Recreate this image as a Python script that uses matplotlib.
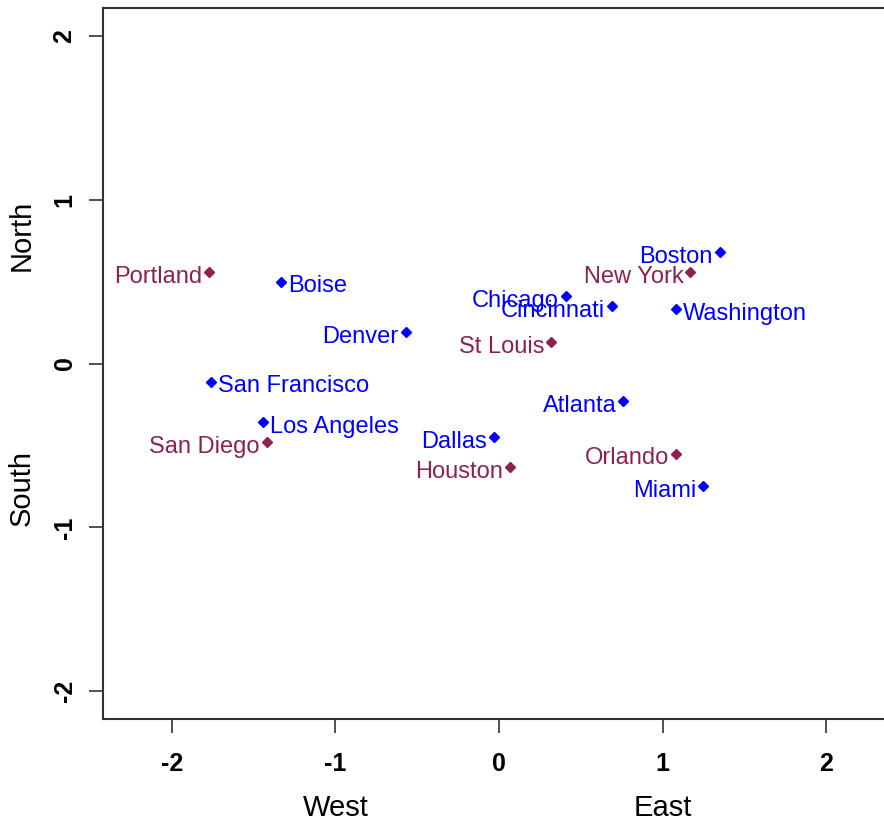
import matplotlib
matplotlib.use("Agg")
import matplotlib.pyplot as plt

cities = ["Portland", "Boise", "Denver", "San Francisco", "Los Angeles", "San Diego",
          "Dallas", "Houston", "Chicago", "Cincinnati", "St Louis", "Atlanta",
          "Boston", "New York", "Washington", "Orlando", "Miami"]
x_vals = [-1.77, -1.33, -0.57, -1.76, -1.44, -1.42,
          -0.03, 0.07, 0.41, 0.69, 0.32, 0.76,
          1.35, 1.17, 1.08, 1.08, 1.25]
y_vals = [0.56, 0.50, 0.19, -0.11, -0.36, -0.48,
          -0.45, -0.63, 0.41, 0.35, 0.13, -0.23,
          0.68, 0.56, 0.33, -0.55, -0.75]
groups = ["m", "b", "b", "b", "b", "m",
          "b", "m", "b", "b", "m", "b",
          "b", "m", "b", "m", "b"]
sides = ["left", "right", "left", "right", "right", "left",
         "left", "left", "left", "left", "left", "left",
         "left", "left", "right", "left", "left"]
ticks = [-2, -1, 0, 1, 2]

colors = {"b": "#0000FF", "m": "#8B2252"}

plt.rcParams['font.family'] = ['Liberation Sans', 'DejaVu Sans']
fig = plt.figure(figsize=(8.84, 8.24), dpi=100)
W, H = 884, 824
left, right, top, bottom = 103, 890, 8, 719
ax = fig.add_axes([left / W, 1 - bottom / H, (right - left) / W, (bottom - top) / H])
ax.set_xlim(-2.42, 2.39)
ax.set_ylim(-2.17, 2.17)

for xv, yv, g, s, name in zip(x_vals, y_vals, groups, sides, cities):
    c = colors[g]
    ax.plot(xv, yv, marker='D', markersize=4.8, color=c, linestyle='none')
    dx = -5 if s == "left" else 5
    ax.annotate(name, (xv, yv), xytext=(dx, -3.5), textcoords='offset points',
                ha='right' if s == "left" else 'left', va='center',
                color=c, fontsize=17)

ax.set_xticks(ticks)
ax.set_yticks(ticks)
ax.set_xticklabels([str(t) for t in ticks], fontsize=18, fontweight='bold')
ax.set_yticklabels([str(t) for t in ticks], fontsize=18, fontweight='bold',
                   rotation=90, va='center')
ax.tick_params(axis='both', direction='out', length=10, width=1.2, color='#333333')
ax.tick_params(axis='x', pad=14)
ax.tick_params(axis='y', pad=9)
for sp in ax.spines.values():
    sp.set_linewidth(1.5)
    sp.set_color('#333333')

# directional axis labels
ax.text(-1, -0.125, "West", transform=ax.get_xaxis_transform(), ha='center', va='center', fontsize=21)
ax.text(1, -0.125, "East", transform=ax.get_xaxis_transform(), ha='center', va='center', fontsize=21)
ax.text(-0.103, 0.78, "North", transform=ax.get_yaxis_transform(), ha='center', va='center',
        rotation=90, fontsize=21)
ax.text(-0.103, -0.76, "South", transform=ax.get_yaxis_transform(), ha='center', va='center',
        rotation=90, fontsize=21)

fig.savefig("out.png", dpi=100)
